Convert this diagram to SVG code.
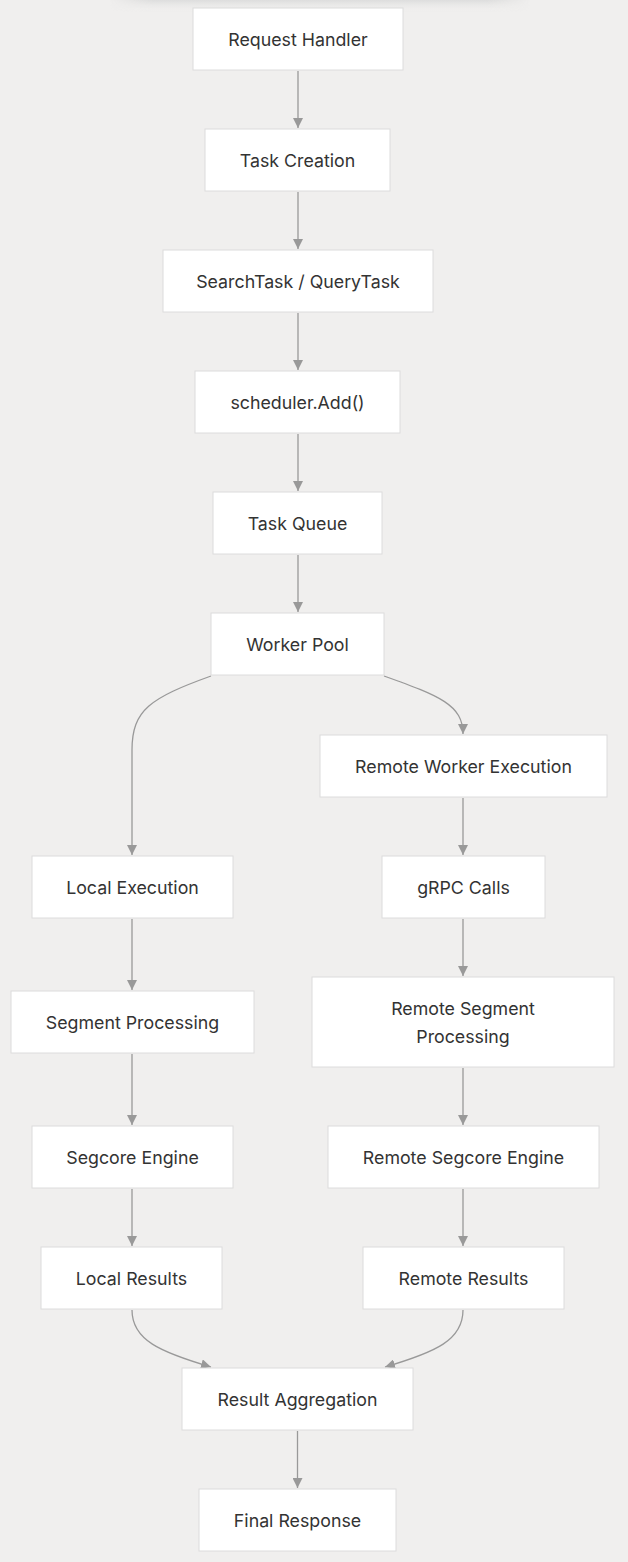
<svg xmlns="http://www.w3.org/2000/svg" width="628" height="1562" viewBox="0 0 628 1562">
<defs>
<style>
.n rect{fill:#ffffff;stroke:#dcdcdc;stroke-width:1}
.n text{font-family:Inter,"Liberation Sans",Arial,sans-serif;font-size:17.8px;fill:#333333;text-anchor:middle;dominant-baseline:central}
.e path{fill:none;stroke:#999999;stroke-width:1.3}
</style>
<marker id="ah" viewBox="0 0 10 10" refX="10" refY="5" markerWidth="10" markerHeight="10" markerUnits="userSpaceOnUse" orient="auto">
<path d="M0,0 L10,5 L0,10 z" fill="#999999"/>
</marker>
<linearGradient id="topshade" x1="0" y1="0" x2="0" y2="1">
<stop offset="0" stop-color="#dcdcdc"/>
<stop offset="1" stop-color="#f0efee" stop-opacity="0"/>
</linearGradient>
<linearGradient id="sidefade" x1="0" y1="0" x2="1" y2="0">
<stop offset="0" stop-color="#fff" stop-opacity="0"/>
<stop offset="0.1" stop-color="#fff" stop-opacity="1"/>
<stop offset="0.9" stop-color="#fff" stop-opacity="1"/>
<stop offset="1" stop-color="#fff" stop-opacity="0"/>
</linearGradient>
<mask id="m"><rect x="110" y="0" width="420" height="12" fill="url(#sidefade)"/></mask>
</defs>
<rect width="628" height="1562" fill="#f0efee"/>
<rect x="110" y="0" width="420" height="12" fill="url(#topshade)" mask="url(#m)"/>
<g class="e">
<path d="M298,71 L298,128" marker-end="url(#ah)"/>
<path d="M298,192 L298,249" marker-end="url(#ah)"/>
<path d="M298,313 L298,370" marker-end="url(#ah)"/>
<path d="M298,434 L298,491" marker-end="url(#ah)"/>
<path d="M298,555 L298,612" marker-end="url(#ah)"/>
<path d="M211,676 C150,698 132,710 132,750 L132,855" marker-end="url(#ah)"/>
<path d="M384,676 C440,696 463,705 463,734" marker-end="url(#ah)"/>
<path d="M463,798 L463,855" marker-end="url(#ah)"/>
<path d="M132,919 L132,990" marker-end="url(#ah)"/>
<path d="M463,919 L463,976" marker-end="url(#ah)"/>
<path d="M132,1054 L132,1125" marker-end="url(#ah)"/>
<path d="M463,1068 L463,1125" marker-end="url(#ah)"/>
<path d="M132,1189 L132,1246" marker-end="url(#ah)"/>
<path d="M463,1189 L463,1246" marker-end="url(#ah)"/>
<path d="M132,1310 C132,1340 160,1352 211,1367" marker-end="url(#ah)"/>
<path d="M463,1310 C463,1340 436,1352 385,1367" marker-end="url(#ah)"/>
<path d="M297.5,1431 L297.5,1488" marker-end="url(#ah)"/>
</g>
<g id="n1" class="n"><rect x="193" y="8" width="210" height="62"/><text x="298" y="39.5">Request Handler</text></g>
<g id="n2" class="n"><rect x="205" y="129" width="185" height="62"/><text x="297.5" y="160.5">Task Creation</text></g>
<g id="n3" class="n"><rect x="163" y="250" width="270" height="62"/><text x="298" y="281.5">SearchTask / QueryTask</text></g>
<g id="n4" class="n"><rect x="195" y="371" width="205" height="62"/><text x="297.5" y="402.5">scheduler.Add()</text></g>
<g id="n5" class="n"><rect x="213" y="492" width="169" height="62"/><text x="297.5" y="523.5">Task Queue</text></g>
<g id="n6" class="n"><rect x="211" y="613" width="173" height="62"/><text x="297.5" y="644.5">Worker Pool</text></g>
<g id="n7" class="n"><rect x="320" y="735" width="287" height="62"/><text x="463.5" y="766.5">Remote Worker Execution</text></g>
<g id="n8" class="n"><rect x="32" y="856" width="201" height="62"/><text x="132.5" y="887.5">Local Execution</text></g>
<g id="n9" class="n"><rect x="382" y="856" width="163" height="62"/><text x="463.5" y="887.5">gRPC Calls</text></g>
<g id="n10" class="n"><rect x="11" y="991" width="243" height="62"/><text x="132.5" y="1022.5">Segment Processing</text></g>
<g id="n11" class="n"><rect x="312" y="977" width="302" height="90"/><text x="463" y="1008.5">Remote Segment</text><text x="463" y="1036.5">Processing</text></g>
<g id="n12" class="n"><rect x="32" y="1126" width="201" height="62"/><text x="132.5" y="1157.5">Segcore Engine</text></g>
<g id="n13" class="n"><rect x="328" y="1126" width="271" height="62"/><text x="463.5" y="1157.5">Remote Segcore Engine</text></g>
<g id="n14" class="n"><rect x="41" y="1247" width="181" height="62"/><text x="131.5" y="1278.5">Local Results</text></g>
<g id="n15" class="n"><rect x="363" y="1247" width="201" height="62"/><text x="463.5" y="1278.5">Remote Results</text></g>
<g id="n16" class="n"><rect x="182" y="1368" width="231" height="62"/><text x="297.5" y="1399.5">Result Aggregation</text></g>
<g id="n17" class="n"><rect x="199" y="1489" width="197" height="62"/><text x="297.5" y="1520.5">Final Response</text></g>
</svg>
